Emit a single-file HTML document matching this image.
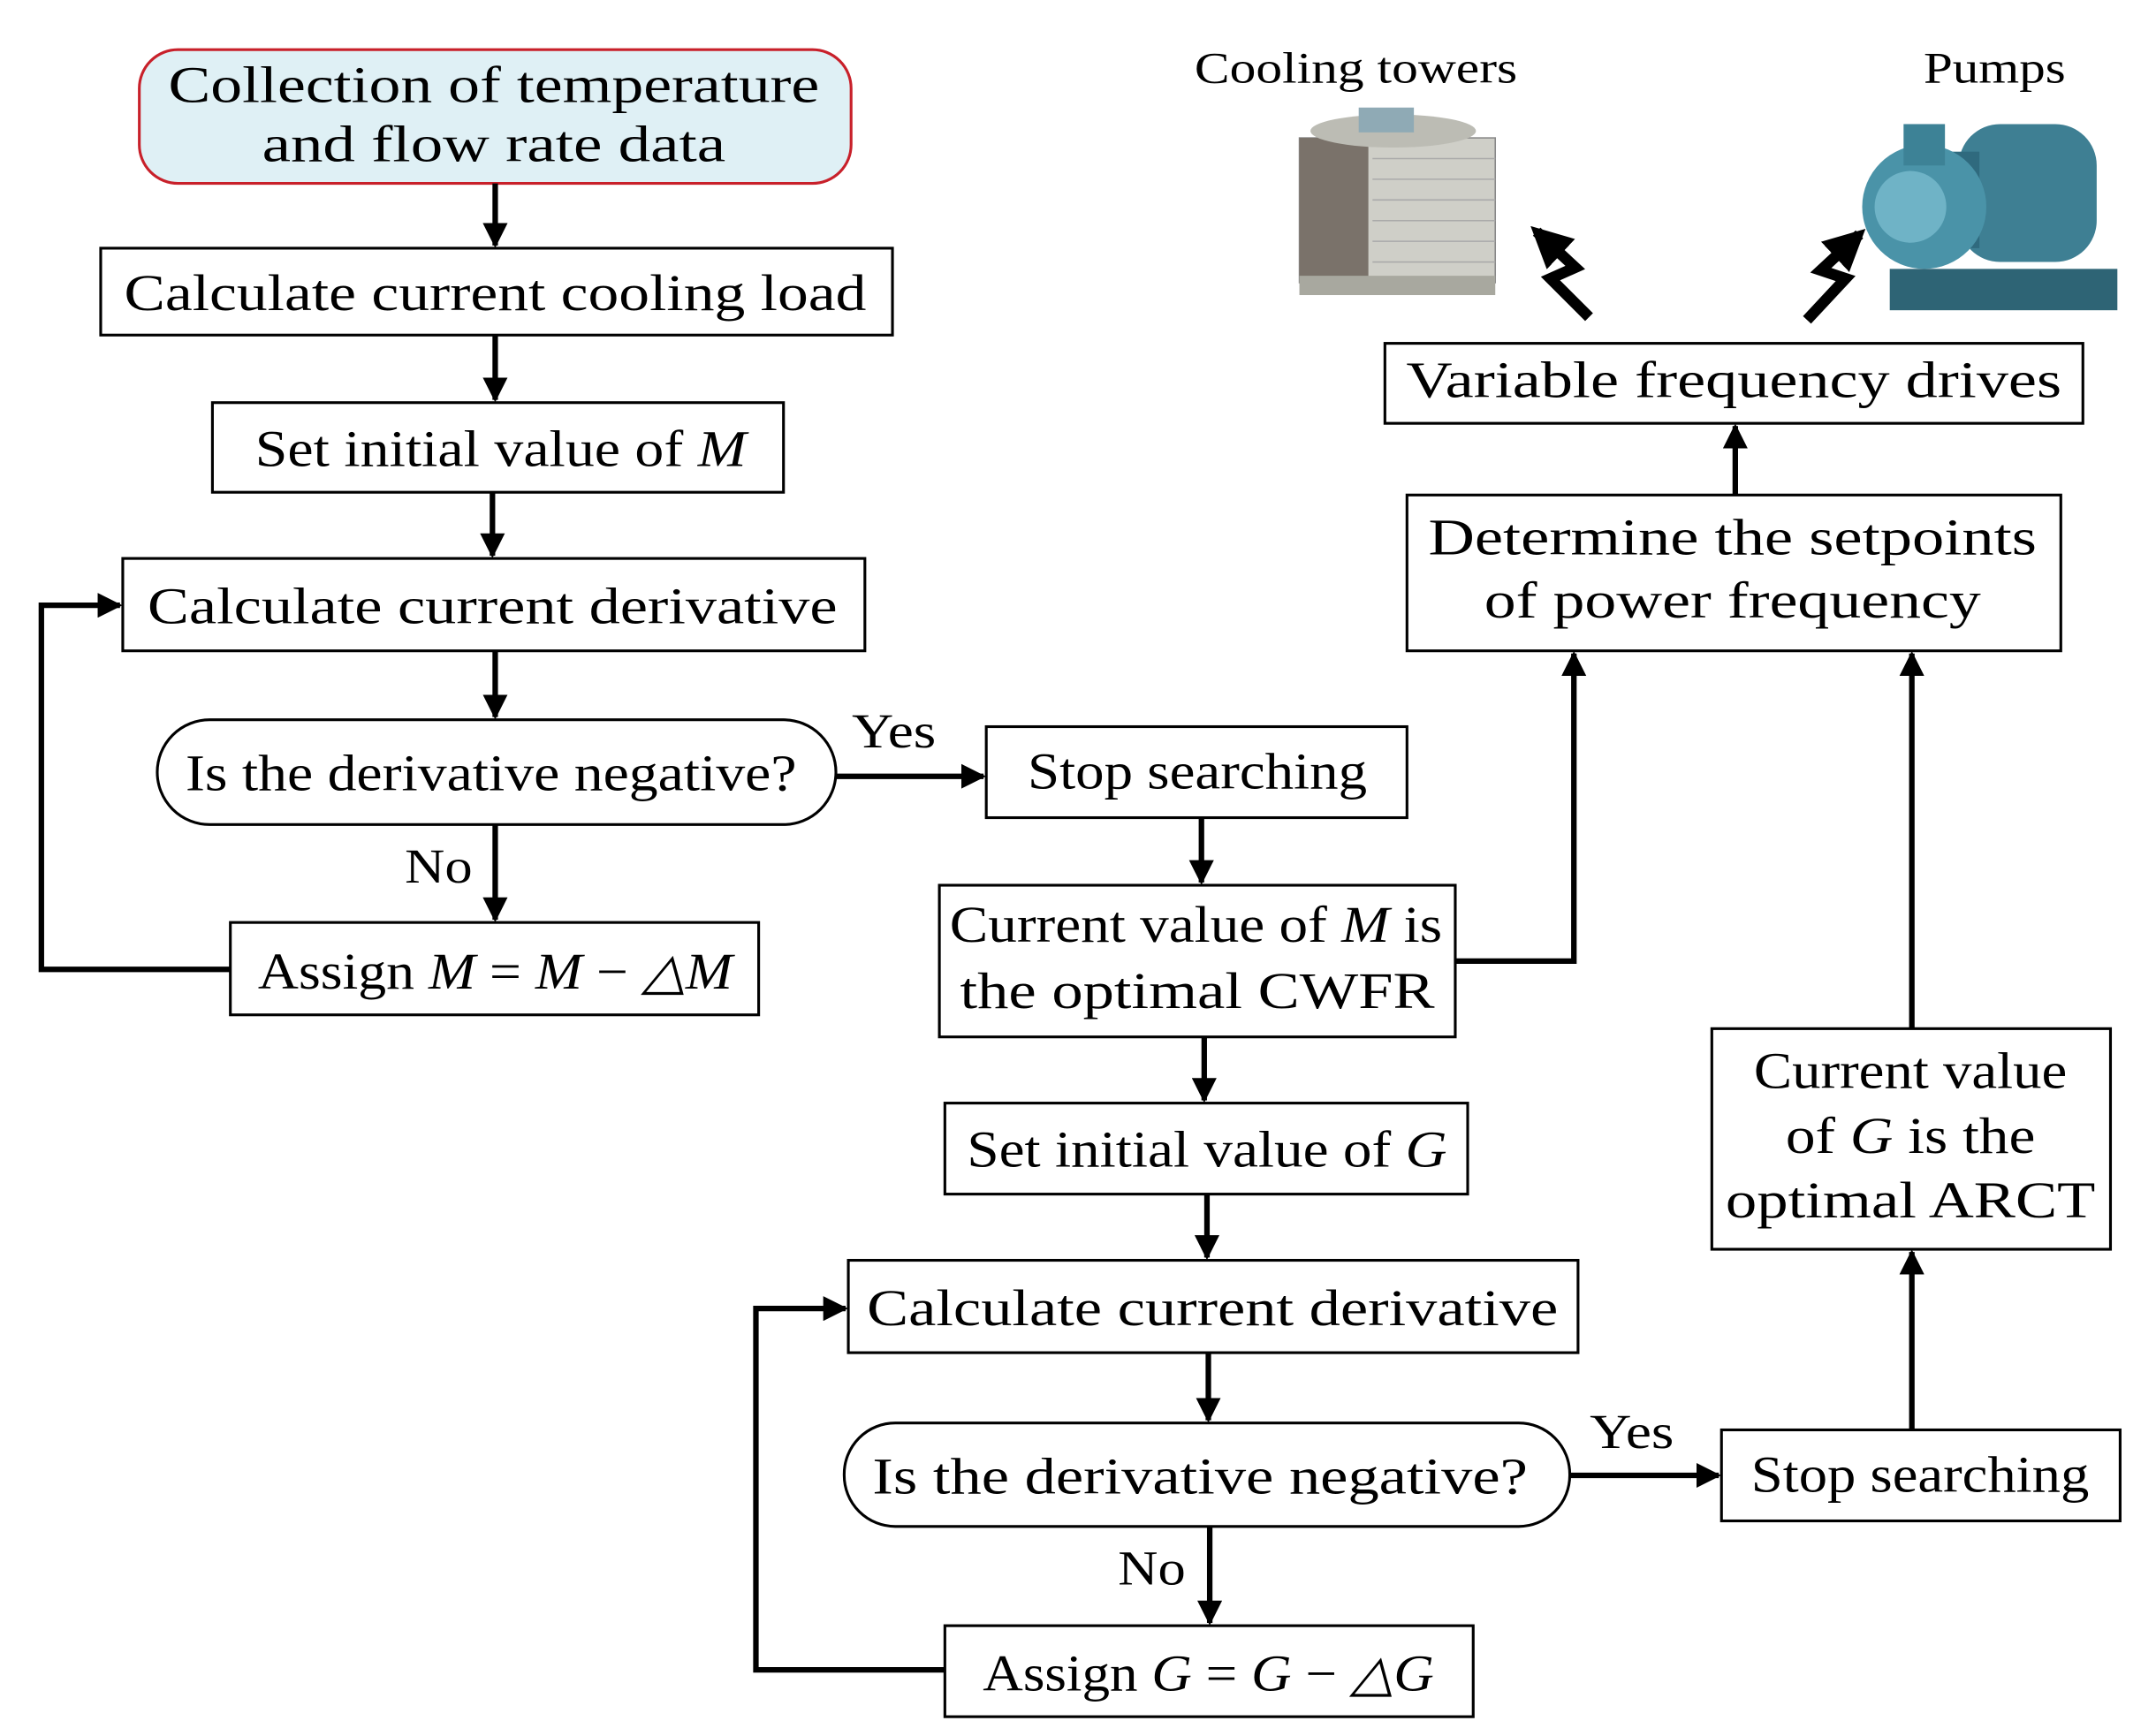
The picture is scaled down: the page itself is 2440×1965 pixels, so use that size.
<!DOCTYPE html>
<html><head><meta charset="utf-8"><style>
html,body{margin:0;padding:0;background:#fff;}
svg{display:block;}
text{font-family:"Liberation Serif",serif;fill:#000;}
</style></head><body>
<svg width="2440" height="1965" viewBox="0 0 1563 1259" preserveAspectRatio="none" xmlns="http://www.w3.org/2000/svg">
<defs>
<marker id="b" viewBox="0 0 10 10" refX="9" refY="5" markerWidth="18" markerHeight="18" orient="auto" markerUnits="userSpaceOnUse"><path d="M0,0 L10,5 L0,10 z" fill="#000"/></marker>
<marker id="c" viewBox="0 0 10 10" refX="8" refY="5" markerWidth="30" markerHeight="30" orient="auto" markerUnits="userSpaceOnUse"><path d="M0,0 L10,5 L0,10 z" fill="#000"/></marker>
</defs>
<g stroke="#000" stroke-width="2" fill="#fff">
<rect x="101" y="36" width="516" height="97" rx="28" fill="#dff0f5" stroke="#c8202a"/>
<rect x="73" y="180" width="574" height="63"/>
<rect x="154" y="292" width="414" height="65"/>
<rect x="89" y="405" width="538" height="67"/>
<rect x="114" y="522" width="492" height="76" rx="38"/>
<rect x="167" y="669" width="383" height="67"/>
<rect x="715" y="527" width="305" height="66"/>
<rect x="681" y="642" width="374" height="110"/>
<rect x="685" y="800" width="379" height="66"/>
<rect x="615" y="914" width="529" height="67"/>
<rect x="612" y="1032" width="526" height="75" rx="37"/>
<rect x="685" y="1179" width="383" height="66"/>
<rect x="1248" y="1037" width="289" height="66"/>
<rect x="1241" y="746" width="289" height="160"/>
<rect x="1020" y="359" width="474" height="113"/>
<rect x="1004" y="249" width="506" height="58"/>
</g>
<g stroke="#000" stroke-width="4" fill="none" marker-end="url(#b)">
<line x1="359" y1="133" x2="359" y2="178"/>
<line x1="359" y1="243" x2="359" y2="290"/>
<line x1="357" y1="357" x2="357" y2="403"/>
<line x1="359" y1="472" x2="359" y2="520"/>
<line x1="359" y1="598" x2="359" y2="667"/>
<polyline points="167,703 30,703 30,439 87,439"/>
<line x1="606" y1="563" x2="713" y2="563"/>
<line x1="871" y1="593" x2="871" y2="640"/>
<polyline points="1055,697 1141,697 1141,474"/>
<line x1="873" y1="752" x2="873" y2="798"/>
<line x1="875" y1="866" x2="875" y2="912"/>
<line x1="876" y1="981" x2="876" y2="1030"/>
<line x1="877" y1="1107" x2="877" y2="1177"/>
<polyline points="685,1211 548,1211 548,949 613,949"/>
<line x1="1138" y1="1070" x2="1246" y2="1070"/>
<line x1="1386" y1="1037" x2="1386" y2="908"/>
<line x1="1386" y1="746" x2="1386" y2="474"/>
<line x1="1258" y1="359" x2="1258" y2="309"/>
</g>
<g stroke="#000" stroke-width="8" fill="none" stroke-linejoin="miter" marker-end="url(#c)">
<polyline points="1152,230 1124,202 1142,194 1114,168"/>
<polyline points="1310,232 1338,202 1320,196 1348,170"/>
</g>
<!-- cooling tower -->
<g>
<rect x="942" y="100" width="142" height="105" fill="#cfcfc8" stroke="#888"/>
<rect x="942" y="100" width="50" height="105" fill="#7a726a"/>
<ellipse cx="1010" cy="95" rx="60" ry="12" fill="#bcbcb4"/>
<rect x="985" y="78" width="40" height="18" fill="#8faab5"/>
<g stroke="#aaa" stroke-width="1"><line x1="995" y1="115" x2="1084" y2="115"/><line x1="995" y1="130" x2="1084" y2="130"/><line x1="995" y1="145" x2="1084" y2="145"/><line x1="995" y1="160" x2="1084" y2="160"/><line x1="995" y1="175" x2="1084" y2="175"/><line x1="995" y1="190" x2="1084" y2="190"/></g>
<rect x="942" y="200" width="142" height="14" fill="#a8a89f"/>
</g>
<!-- pump -->
<g>
<rect x="1420" y="90" width="100" height="100" rx="30" fill="#3e7f93"/>
<rect x="1395" y="110" width="40" height="70" fill="#2f6a7e"/>
<circle cx="1395" cy="150" r="45" fill="#4a93a8"/>
<circle cx="1385" cy="150" r="26" fill="#6fb3c6"/>
<rect x="1380" y="90" width="30" height="30" fill="#3d8296"/>
<rect x="1370" y="195" width="165" height="30" fill="#2e6475"/>
</g>
<g font-size="37" text-anchor="middle" lengthAdjust="spacingAndGlyphs">
<text x="358" y="74" textLength="472" lengthAdjust="spacingAndGlyphs">Collection of temperature</text>
<text x="358" y="117" textLength="336" lengthAdjust="spacingAndGlyphs">and flow rate data</text>
<text x="359" y="225" textLength="538" lengthAdjust="spacingAndGlyphs">Calculate current cooling load</text>
<text x="363" y="338" textLength="356" lengthAdjust="spacingAndGlyphs">Set initial value of <tspan font-style="italic">M</tspan></text>
<text x="357" y="452" textLength="500" lengthAdjust="spacingAndGlyphs">Calculate current derivative</text>
<text x="356" y="573" textLength="443" lengthAdjust="spacingAndGlyphs">Is the derivative negative?</text>
<text x="359" y="717" textLength="344" lengthAdjust="spacingAndGlyphs">Assign <tspan font-style="italic">M</tspan> = <tspan font-style="italic">M</tspan> − <tspan font-style="italic">△M</tspan></text>
<text x="868" y="572" textLength="246" lengthAdjust="spacingAndGlyphs">Stop searching</text>
<text x="867" y="683" textLength="357" lengthAdjust="spacingAndGlyphs">Current value of <tspan font-style="italic">M</tspan> is</text>
<text x="868" y="731" textLength="344" lengthAdjust="spacingAndGlyphs">the optimal CWFR</text>
<text x="875" y="846" textLength="348" lengthAdjust="spacingAndGlyphs">Set initial value of <tspan font-style="italic">G</tspan></text>
<text x="879" y="961" textLength="501" lengthAdjust="spacingAndGlyphs">Calculate current derivative</text>
<text x="870" y="1083" textLength="475" lengthAdjust="spacingAndGlyphs">Is the derivative negative?</text>
<text x="876" y="1226" textLength="327" lengthAdjust="spacingAndGlyphs">Assign <tspan font-style="italic">G</tspan> = <tspan font-style="italic">G</tspan> − <tspan font-style="italic">△G</tspan></text>
<text x="1392" y="1082" textLength="245" lengthAdjust="spacingAndGlyphs">Stop searching</text>
<text x="1385" y="789" textLength="227" lengthAdjust="spacingAndGlyphs">Current value</text>
<text x="1385" y="836" textLength="181" lengthAdjust="spacingAndGlyphs">of <tspan font-style="italic">G</tspan> is the</text>
<text x="1385" y="883" textLength="268" lengthAdjust="spacingAndGlyphs">optimal ARCT</text>
<text x="1256" y="402" textLength="441" lengthAdjust="spacingAndGlyphs">Determine the setpoints</text>
<text x="1256" y="448" textLength="360" lengthAdjust="spacingAndGlyphs">of power frequency</text>
<text x="1257" y="288" textLength="475" lengthAdjust="spacingAndGlyphs">Variable frequency drives</text>
<text x="648" y="542" font-size="35" textLength="61" lengthAdjust="spacingAndGlyphs">Yes</text>
<text x="318" y="640" font-size="35" textLength="49" lengthAdjust="spacingAndGlyphs">No</text>
<text x="1183" y="1050" font-size="35" textLength="61" lengthAdjust="spacingAndGlyphs">Yes</text>
<text x="835" y="1149" font-size="35" textLength="49" lengthAdjust="spacingAndGlyphs">No</text>
<text x="983" y="60" font-size="32" textLength="234" lengthAdjust="spacingAndGlyphs">Cooling towers</text>
<text x="1446" y="60" font-size="32" textLength="103" lengthAdjust="spacingAndGlyphs">Pumps</text>
</g>
</svg>
</body></html>
